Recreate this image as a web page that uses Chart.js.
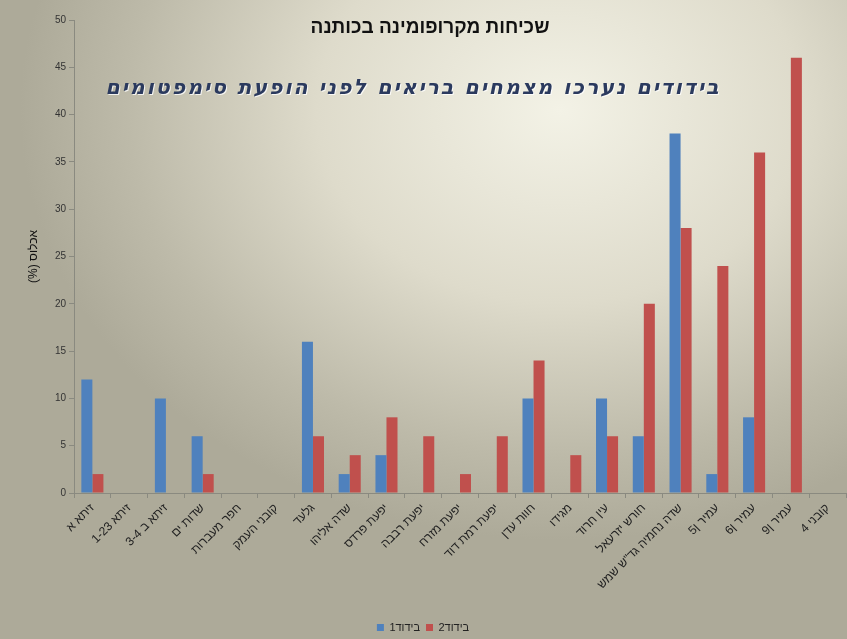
<!DOCTYPE html>
<html>
<head>
<meta charset="utf-8">
<script src="https://cdn.jsdelivr.net/npm/chart.js@4.4.0/dist/chart.umd.min.js"></script>
<style>
  html, body { margin: 0; padding: 0; }
  body {
    width: 847px; height: 639px; overflow: hidden;
    background: radial-gradient(ellipse 540px 430px at 560px 110px, #f3f2e6 0%, #dedbcb 45%, #bdbaa9 80%, #adaa99 100%);
  }
  #wrap { position: relative; width: 847px; height: 639px; }
</style>
</head>
<body>
<div id="wrap"><canvas id="myChart" dir="rtl" width="847" height="639"></canvas></div>
<script>
var categories = ['זיתא א', 'זיתא 1-23', 'זיתא ב 3-4', 'שדות ים', 'חפר מעברות', 'קובני העמק', 'גלעד',
  'שדה אליהו', 'יפעת פרדס', 'יפעת רבבה', 'יפעת מזרח', 'יפעת רמת דוד', 'חוות עדן', 'מגידו',
  'עין חרוד', 'חורש יזרעאל', 'שדה נחמיה גד"ש שמש', 'עמיר ן5', 'עמיר ן6', 'עמיר ן9', 'קובני 4'];
var bidud1 = [12, 0, 10, 6, 0, 0, 16, 2, 4, 0, 0, 0, 10, 0, 10, 6, 38, 2, 8, 0, 0];
var bidud2 = [2, 0, 0, 2, 0, 0, 6, 4, 8, 6, 2, 6, 14, 4, 6, 20, 28, 24, 36, 46, 0];
var yTicks = [0, 5, 10, 15, 20, 25, 30, 35, 40, 45, 50];

var title = 'שכיחות מקרופומינה בכותנה';
var note = 'בידודים נערכו מצמחים בריאים לפני הופעת סימפטומים';

// title and the handwritten note sit inside the plot, like in Excel
var textsPlugin = {
  id: 'texts',
  afterDraw: function (chart) {
    var c = chart.ctx;
    c.save();
    c.direction = 'rtl';
    c.textAlign = 'center';
    c.textBaseline = 'middle';
    c.fillStyle = '#111';
    c.font = 'bold 19px "Liberation Sans", Arial, sans-serif';
    c.fillText(title, 430, 28);
    c.font = 'italic bold 21px "DejaVu Sans", sans-serif';
    c.letterSpacing = '2px';
    c.shadowColor = 'rgba(255,255,255,0.8)';
    c.shadowOffsetX = 1;
    c.shadowOffsetY = 1;
    c.fillStyle = '#2b3a5e';
    c.fillText(note, 413, 89, 615);
    c.restore();
  }
};

var ctx = document.getElementById('myChart').getContext('2d');
var myChart = new Chart(ctx, {
  type: 'bar',
  data: {
    labels: categories,
    datasets: [
      { label: 'בידוד1', data: bidud1, backgroundColor: '#4F81BD' },
      { label: 'בידוד2', data: bidud2, backgroundColor: '#C0504D' }
    ]
  },
  options: {
    responsive: false,
    animation: false,
    layout: { padding: { top: 20, right: 1, left: 0, bottom: -4 } },
    datasets: { bar: { categoryPercentage: 0.6, barPercentage: 1.0 } },
    plugins: {
      title: { display: false },
      tooltip: { enabled: false },
      legend: {
        position: 'bottom',
        labels: {
          boxWidth: 7, boxHeight: 7, padding: 6,
          color: '#222',
          font: { size: 11, family: '"Liberation Sans", Arial, sans-serif' }
        }
      }
    },
    scales: {
      x: {
        grid: { drawOnChartArea: false, tickLength: 5, color: '#8a8a80', offset: true },
        border: { color: '#8a8a80' },
        ticks: {
          autoSkip: false, maxRotation: 45, minRotation: 45,
          color: '#222',
          font: { size: 12, family: '"Liberation Sans", Arial, sans-serif' }
        },
        afterFit: function (scale) { scale.height = 123; }
      },
      y: {
        min: 0, max: 50,
        afterBuildTicks: function (scale) {
          scale.ticks = yTicks.map(function (v) { return { value: v }; });
        },
        grid: { drawOnChartArea: false, tickLength: 5, color: '#8a8a80' },
        border: { color: '#8a8a80' },
        ticks: {
          padding: 3, color: '#333',
          font: { size: 10, family: '"Liberation Sans", Arial, sans-serif' }
        },
        title: {
          display: true, text: 'אכלוס (%)', color: '#111',
          padding: { top: 26, bottom: 0 },
          font: { size: 12, family: '"Liberation Sans", Arial, sans-serif' }
        },
        afterFit: function (scale) { scale.width = 74; }
      }
    }
  },
  plugins: [textsPlugin]
});
</script>
</body>
</html>
